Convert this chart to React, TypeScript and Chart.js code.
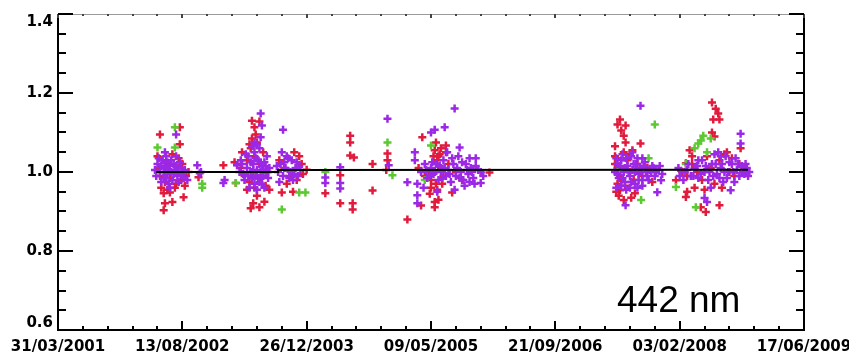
import React, { useEffect, useRef } from "react";
import { Chart, registerables } from "chart.js";

Chart.register(...registerables);

// X axis: one major tick every 500 days starting 31/03/2001 (values in tick units)
const xTickLabels = ["31/03/2001", "13/08/2002", "26/12/2003", "09/05/2005", "21/09/2006", "03/02/2008", "17/06/2009"];
const yTickValues = [0.6, 0.8, 1.0, 1.2, 1.4];
const yTickLabels = ["0.6", "0.8", "1.0", "1.2", "1.4"];
const panelLabel = "442 nm";

const redPoints: [number, number][] = [
  [0.82, 1.095], [0.98, 1.113], [0.98, 1.07], [0.85, 0.946], [0.9, 0.948], [1.01, 0.936], [0.86, 0.921], [0.92, 0.924], [0.85, 0.903],
  [0.8, 1.04], [0.84, 1.03], [0.88, 1.02], [0.92, 1.045], [0.96, 1.01], [1.0, 1.02], [0.82, 0.99], [0.86, 0.975], [0.9, 0.985],
  [0.95, 0.97], [0.99, 0.98], [1.03, 0.99], [0.83, 0.96], [0.88, 0.955], [0.94, 0.96], [1.02, 0.965], [0.81, 1.01], [0.97, 1.035], [1.05, 1.0],
  [1.13, 0.987],
  [1.33, 1.017], [1.42, 1.025], [1.43, 0.972], [1.56, 1.13], [1.62, 1.128], [1.58, 1.113], [1.6, 1.075], [1.57, 0.921], [1.62, 0.911],
  [1.55, 0.908], [1.6, 0.94], [1.66, 0.925], [1.56, 1.085], [1.59, 1.095], [1.54, 1.07],
  [1.48, 1.05], [1.52, 1.03], [1.55, 1.06], [1.58, 1.04], [1.62, 1.02], [1.65, 1.05], [1.68, 1.0], [1.5, 0.99], [1.54, 0.975], [1.58, 0.96],
  [1.63, 0.985], [1.67, 0.965], [1.7, 0.955], [1.47, 1.01], [1.52, 0.955], [1.57, 0.99],
  [1.78, 1.03], [1.82, 1.01], [1.86, 0.99], [1.9, 1.05], [1.94, 1.04], [1.8, 0.948], [1.89, 0.95], [1.84, 0.97], [1.92, 0.98], [1.96, 1.02], [1.97, 0.995],
  [2.0, 1.006],
  [2.15, 0.946], [2.27, 0.992], [2.27, 0.921], [2.37, 0.921], [2.37, 0.905], [2.35, 1.092], [2.35, 1.075], [2.35, 1.042], [2.38, 1.037],
  [2.53, 1.02], [2.53, 0.953], [2.65, 1.047], [2.65, 1.03], [2.64, 1.005],
  [2.81, 0.88], [2.92, 0.915], [2.93, 1.088], [3.04, 1.075], [3.08, 1.06], [3.12, 1.067], [3.12, 1.05], [3.03, 0.924], [3.03, 0.911],
  [3.06, 0.93], [3.17, 0.948], [3.47, 0.999],
  [2.98, 1.0], [3.0, 0.98], [3.02, 1.04], [3.05, 1.03], [3.08, 1.01], [3.1, 0.99], [3.0, 0.96], [3.05, 0.955], [3.09, 0.97], [2.95, 0.99],
  [3.14, 1.02], [3.2, 1.0], [3.25, 0.98], [2.9, 1.01], [3.07, 1.045], [3.03, 1.055], [2.99, 0.945], [3.04, 0.97], [3.06, 1.04],
  [4.52, 1.133], [4.565, 1.118], [4.53, 1.105], [4.55, 1.092], [4.565, 1.075], [4.685, 1.072], [4.62, 1.055], [4.52, 0.954], [4.55, 0.929],
  [4.64, 0.946], [4.61, 0.935], [4.5, 1.12], [4.48, 1.065], [4.51, 0.94], [4.49, 0.95],
  [4.48, 1.04], [4.5, 1.01], [4.52, 0.99], [4.55, 1.05], [4.58, 1.03], [4.6, 1.0], [4.63, 0.98], [4.5, 0.97], [4.56, 0.965], [4.66, 1.02],
  [4.7, 0.99], [4.74, 1.01], [4.78, 0.975], [4.48, 1.02], [4.6, 1.045], [4.53, 0.98],
  [5.26, 1.176], [5.29, 1.16], [5.31, 1.148], [5.27, 1.133], [5.32, 1.133], [5.26, 1.1], [5.28, 1.09], [5.08, 1.055], [5.05, 1.022],
  [4.97, 0.979], [5.05, 0.937], [5.06, 0.95], [5.17, 0.911], [5.21, 0.899], [5.32, 0.916], [5.49, 1.06],
  [5.02, 1.0], [5.06, 0.99], [5.1, 1.02], [5.14, 1.0], [5.18, 0.98], [5.22, 1.04], [5.25, 1.01], [5.28, 0.97], [5.32, 1.03], [5.36, 1.045],
  [5.4, 1.0], [5.44, 0.99], [5.48, 1.02], [5.52, 1.01], [5.12, 0.96], [5.2, 0.955], [5.34, 0.96], [5.38, 1.05], [5.42, 1.035], [5.1, 1.04], [5.54, 1.0],
];

const greenPoints: [number, number][] = [
  [0.8, 1.062], [0.94, 1.062], [0.94, 1.113], [1.16, 0.97], [1.16, 0.96], [1.43, 0.972], [1.8, 0.905], [1.94, 0.948], [1.99, 0.948],
  [2.15, 1.0], [2.65, 1.075], [2.69, 0.992], [3.0, 1.067], [2.95, 0.98],
  [4.8, 1.12], [4.69, 0.929], [4.75, 1.035], [4.5, 1.0],
  [5.17, 1.08], [5.15, 1.072], [5.19, 1.092], [5.12, 1.06], [5.05, 1.02], [4.97, 0.962], [5.13, 0.911], [5.22, 1.05], [5.25, 1.085],
];

const purplePoints: [number, number][] = [
  [0.95, 1.095],
  [0.78, 1.005], [0.8, 1.02], [0.82, 1.0], [0.84, 1.03], [0.85, 0.985], [0.86, 1.01], [0.87, 1.04], [0.88, 0.995], [0.89, 0.97],
  [0.9, 1.015], [0.91, 1.0], [0.92, 0.98], [0.93, 1.02], [0.94, 1.005], [0.96, 0.99], [0.97, 1.0], [0.98, 1.025], [1.0, 0.995],
  [1.02, 1.005], [1.04, 0.98], [0.83, 0.975], [0.88, 1.025], [0.95, 1.04],
  [0.79, 0.99], [0.81, 1.035], [0.83, 1.015], [0.85, 1.0], [0.87, 0.985], [0.89, 1.005], [0.91, 1.03], [0.93, 0.995], [0.95, 1.015],
  [0.97, 0.975], [0.99, 1.01], [1.01, 0.985], [0.86, 1.05], [0.9, 0.96],
  [1.12, 1.017], [1.14, 0.997], [1.15, 1.0],
  [1.34, 0.98], [1.33, 0.972], [1.44, 1.017], [1.63, 1.148], [1.64, 1.118], [1.63, 1.088], [1.58, 1.075], [1.81, 1.107],
  [1.46, 1.0], [1.48, 1.02], [1.5, 0.98], [1.52, 1.01], [1.53, 1.04], [1.55, 1.0], [1.56, 0.985], [1.57, 1.02], [1.58, 1.05], [1.59, 0.99],
  [1.6, 1.005], [1.61, 1.03], [1.62, 0.975], [1.63, 1.0], [1.64, 1.015], [1.65, 0.99], [1.66, 1.025], [1.67, 1.0], [1.68, 1.04], [1.69, 0.985],
  [1.7, 1.01], [1.54, 0.96], [1.6, 0.955], [1.66, 0.96], [1.62, 1.06],
  [1.47, 1.03], [1.49, 0.995], [1.51, 1.045], [1.53, 0.99], [1.55, 1.025], [1.57, 1.005], [1.59, 1.035], [1.61, 0.985], [1.63, 1.025],
  [1.65, 1.005], [1.67, 1.015], [1.69, 1.0], [1.56, 1.065], [1.6, 1.07], [1.58, 0.97], [1.64, 0.97],
  [1.77, 1.0], [1.79, 1.02], [1.81, 0.99], [1.83, 1.01], [1.85, 1.035], [1.87, 1.0], [1.89, 0.98], [1.91, 1.01], [1.93, 0.99], [1.95, 1.005],
  [1.78, 0.975], [1.84, 1.04], [1.88, 1.03], [1.8, 1.05], [1.76, 1.015], [1.82, 1.025], [1.86, 0.985], [1.9, 0.995], [1.92, 1.025], [1.94, 1.015],
  [2.15, 0.986], [2.15, 0.972], [2.27, 1.012], [2.27, 0.972], [2.27, 0.958], [2.65, 1.135], [2.66, 1.017],
  [2.87, 1.05], [2.87, 1.03], [2.89, 0.941], [2.89, 0.921], [2.81, 0.974], [2.89, 0.97], [3.0, 1.1], [3.03, 1.107], [3.11, 1.113],
  [3.19, 1.161], [3.23, 1.062], [3.31, 1.035], [3.36, 1.035], [3.4, 0.972], [3.35, 0.97],
  [2.92, 1.0], [2.95, 1.02], [2.97, 0.985], [3.0, 1.01], [3.02, 0.995], [3.04, 1.02], [3.06, 0.98], [3.08, 1.0], [3.1, 1.03], [3.12, 0.99],
  [3.14, 1.005], [3.16, 0.975], [3.18, 1.02], [3.2, 0.99], [3.22, 1.04], [3.24, 1.0], [3.26, 0.98], [3.28, 1.02], [3.3, 0.995], [3.32, 1.01],
  [3.34, 0.985], [3.38, 1.005], [3.42, 0.99], [3.19, 0.955], [3.27, 0.965], [3.13, 1.05], [2.94, 0.96], [3.05, 0.95],
  [2.96, 1.005], [2.99, 0.99], [3.01, 1.025], [3.03, 1.0], [3.07, 1.015], [3.09, 0.985], [3.11, 1.01], [3.15, 0.995], [3.17, 1.035],
  [3.21, 1.01], [3.23, 0.985], [3.25, 1.025], [3.29, 1.005], [3.31, 0.975], [3.33, 1.0], [3.36, 1.015], [3.4, 1.0],
  [4.685, 1.168], [4.82, 0.949], [4.85, 0.979], [4.565, 0.916],
  [4.48, 1.0], [4.5, 1.02], [4.51, 0.985], [4.53, 1.03], [4.55, 1.0], [4.56, 0.975], [4.58, 1.015], [4.6, 0.99], [4.61, 1.04], [4.62, 1.005],
  [4.64, 0.97], [4.65, 1.02], [4.67, 0.995], [4.68, 1.01], [4.7, 0.98], [4.72, 1.025], [4.74, 0.99], [4.76, 1.005], [4.78, 1.015], [4.8, 0.99],
  [4.83, 1.005], [4.86, 0.995], [4.49, 0.96], [4.57, 0.955], [4.66, 0.96], [4.54, 1.045], [4.7, 1.035],
  [4.49, 1.035], [4.5, 0.995], [4.52, 1.015], [4.54, 0.985], [4.56, 1.01], [4.57, 1.035], [4.59, 1.0], [4.61, 0.975], [4.63, 1.02],
  [4.64, 1.0], [4.66, 1.035], [4.67, 0.98], [4.69, 1.0], [4.71, 1.015], [4.73, 1.0], [4.75, 0.98], [4.77, 1.0], [4.79, 1.01], [4.81, 1.0],
  [4.84, 1.015], [4.53, 0.965], [4.6, 0.96], [4.7, 0.965], [4.62, 1.05],
  [5.49, 1.097], [5.49, 1.072], [5.2, 0.934], [5.22, 0.924], [5.41, 0.954],
  [4.99, 1.01], [5.03, 0.98], [5.06, 1.005], [5.09, 0.99], [5.12, 1.01], [5.15, 0.985], [5.18, 1.03], [5.2, 1.0], [5.23, 0.98], [5.26, 1.02],
  [5.28, 1.045], [5.3, 0.995], [5.33, 1.01], [5.35, 0.975], [5.37, 1.04], [5.39, 1.0], [5.42, 1.02], [5.44, 0.975], [5.46, 1.005], [5.48, 0.99],
  [5.5, 1.015], [5.52, 0.995], [5.54, 1.01], [5.56, 1.0], [5.25, 0.96], [5.31, 1.05], [5.15, 1.03], [5.45, 1.035],
  [5.0, 0.99], [5.04, 1.0], [5.07, 1.02], [5.11, 0.99], [5.14, 1.015], [5.17, 0.995], [5.21, 1.015], [5.24, 1.0], [5.27, 0.99], [5.29, 1.02],
  [5.32, 0.985], [5.34, 1.02], [5.36, 1.0], [5.4, 1.025], [5.43, 1.0], [5.47, 1.02], [5.51, 1.0], [5.53, 1.02], [5.55, 0.99], [5.33, 1.04], [5.38, 0.985],
];

const fitLine: [number, number][] = [
  [0.79, 1.0], [1.77, 1.0], [1.77, 1.005], [5.55, 1.006],
];

const toXY = (pts: [number, number][]) => pts.map(([x, y]) => ({ x, y }));

const idlAxes = {
  id: "idlAxes",
  afterDraw(chart: any) {
    const { ctx, chartArea, scales } = chart;
    const { left, right, top, bottom } = chartArea;
    const xs = scales.x;
    const ys = scales.y;
    ctx.save();
    // top axis: thin grey line with small ticks
    ctx.strokeStyle = "#9a9a9a";
    ctx.lineWidth = 1;
    ctx.beginPath();
    ctx.moveTo(left, top + 0.5);
    ctx.lineTo(right, top + 0.5);
    ctx.stroke();

    ctx.strokeStyle = "#000";
    ctx.lineWidth = 2;
    ctx.beginPath();
    ctx.moveTo(left, top);
    ctx.lineTo(left, bottom);
    ctx.lineTo(right, bottom);
    ctx.lineTo(right, top);
    ctx.stroke();

    // x ticks (major every 1, minor every 0.2)
    ctx.lineWidth = 2;
    for (let i = 0; i <= 30; i++) {
      const v = i * 0.2;
      const px = Math.round(xs.getPixelForValue(v));
      const major = i % 5 === 0;
      ctx.strokeStyle = "#000";
      ctx.beginPath();
      ctx.moveTo(px, bottom);
      ctx.lineTo(px, bottom - (major ? 9 : 4));
      ctx.stroke();
      ctx.strokeStyle = "#444";
      ctx.beginPath();
      ctx.moveTo(px, top);
      ctx.lineTo(px, top + (major ? 4 : 2));
      ctx.stroke();
    }
    // y ticks (major every 0.2, minor every 0.05)
    ctx.strokeStyle = "#000";
    for (let i = 0; i <= 16; i++) {
      const v = 0.6 + i * 0.05;
      const py = Math.round(ys.getPixelForValue(v));
      const major = i % 4 === 0;
      const len = major ? 15 : 8;
      ctx.beginPath();
      ctx.moveTo(left, py);
      ctx.lineTo(left + len, py);
      ctx.moveTo(right, py);
      ctx.lineTo(right - len, py);
      ctx.stroke();
    }

    // tick labels
    ctx.fillStyle = "#000";
    ctx.font = 'bold 15px "DejaVu Sans"';
    ctx.textAlign = "center";
    ctx.textBaseline = "middle";
    xTickLabels.forEach((lab, i) => {
      ctx.fillText(lab, xs.getPixelForValue(i), 347);
    });
    ctx.textAlign = "right";
    yTickValues.forEach((v, i) => {
      let py = ys.getPixelForValue(v);
      py = Math.min(Math.max(py, top + 8), bottom - 7);
      ctx.fillText(yTickLabels[i], 53, py);
    });

    // panel label
    ctx.font = '37px "Liberation Sans"';
    ctx.textAlign = "left";
    ctx.textBaseline = "alphabetic";
    ctx.fillText(panelLabel, 617, 312);
    ctx.restore();
  },
};

export default function App() {
  const ref = useRef<HTMLCanvasElement>(null);
  useEffect(() => {
    if (!ref.current) return;
    const pointStyle = (color: string, order: number, data: [number, number][], label: string) => ({
      type: "scatter" as const,
      label,
      data: toXY(data),
      order,
      pointStyle: "cross",
      pointRadius: 4,
      pointBorderWidth: 2.5,
      borderColor: color,
      backgroundColor: color,
      showLine: false,
    });
    const chart = new Chart(ref.current, {
      type: "scatter",
      data: {
        datasets: [
          {
            type: "line",
            label: "fit",
            data: toXY(fitLine),
            order: 0,
            borderColor: "#000",
            borderWidth: 2,
            pointRadius: 0,
            fill: false,
            tension: 0,
          } as any,
          pointStyle("#9b28e6", 1, purplePoints, "purple"),
          pointStyle("#5cc832", 2, greenPoints, "green"),
          pointStyle("#e01b3c", 3, redPoints, "red"),
        ],
      },
      options: {
        animation: false,
        responsive: false,
        devicePixelRatio: 1,
        layout: { padding: { left: 58, right: 45, top: 14, bottom: 25 } },
        plugins: { legend: { display: false }, tooltip: { enabled: false } },
        scales: {
          x: { type: "linear", min: 0, max: 6, display: false },
          y: { type: "linear", min: 0.6, max: 1.4, display: false },
        },
      },
      plugins: [idlAxes],
    });
    return () => chart.destroy();
  }, []);
  return (
    <div style={{ position: "absolute", left: 0, top: 0, width: 849, height: 355, background: "#fff" }}>
      <canvas ref={ref} width={849} height={355} style={{ display: "block" }} />
    </div>
  );
}
